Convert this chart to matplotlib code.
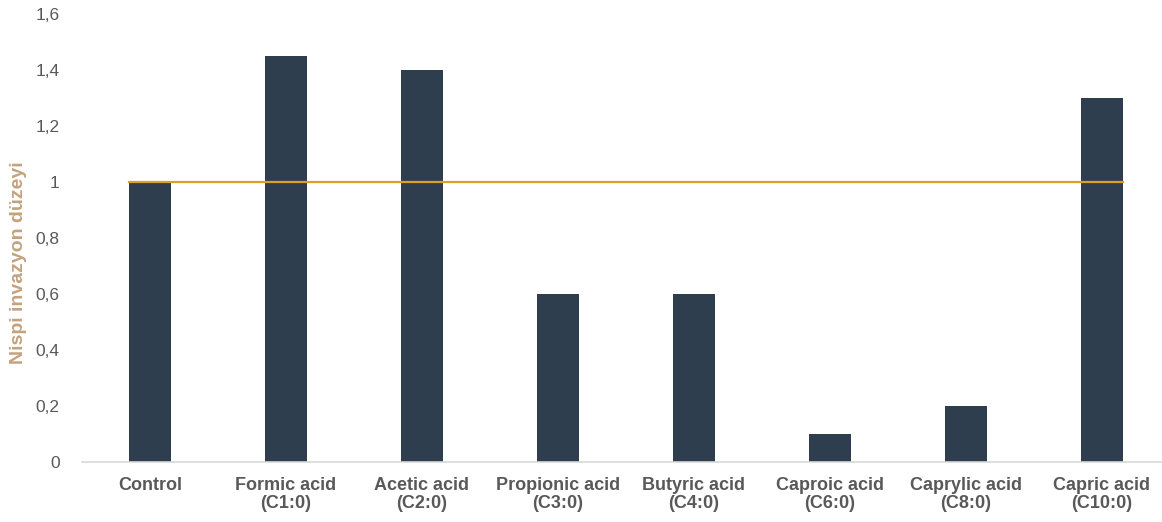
import matplotlib
matplotlib.use("Agg")
import matplotlib.pyplot as plt
from matplotlib.ticker import FuncFormatter

categories = ["Control", "Formic acid\n(C1:0)", "Acetic acid\n(C2:0)", "Propionic acid\n(C3:0)",
              "Butyric acid\n(C4:0)", "Caproic acid\n(C6:0)", "Caprylic acid\n(C8:0)", "Capric acid\n(C10:0)"]
values = [1.0, 1.45, 1.40, 0.60, 0.60, 0.10, 0.20, 1.30]
reference_level = 1.0
yticks = [0, 0.2, 0.4, 0.6, 0.8, 1.0, 1.2, 1.4, 1.6]
ylabel = "Nispi invazyon düzeyi"

plt.rcParams['font.family'] = ['Liberation Sans', 'DejaVu Sans']

fig = plt.figure(figsize=(11.62, 5.22), dpi=100)
ax = fig.add_axes([82 / 1162, 0.115, 1088 / 1162, 0.858])

x = list(range(len(categories)))
bw = 0.31
ax.bar(x, values, width=bw, color="#2E3E4E", zorder=2)
ax.plot([x[0] - bw / 2, x[-1] + bw / 2], [reference_level, reference_level],
        color="#D9A21F", linewidth=1.6, zorder=3)

ax.set_xlim(-0.5, len(categories) - 0.5)
ax.set_ylim(0, 1.6)
ax.set_yticks(yticks)
ax.yaxis.set_major_formatter(FuncFormatter(lambda v, p: ("%g" % round(v, 1)).replace(".", ",")))
ax.set_xticks(x)
ax.set_xticklabels(categories, fontweight="bold", color="#595959", fontsize=13, linespacing=1.05)
ax.tick_params(axis="y", length=0, labelsize=12.5, labelcolor="#595959", pad=16)
ax.tick_params(axis="x", length=0, pad=11)

for s in ["top", "right", "left"]:
    ax.spines[s].set_visible(False)
ax.spines["bottom"].set_color("#D9D9D9")
ax.spines["bottom"].set_linewidth(1.2)

ax.set_ylabel(ylabel, color="#C4A27E", fontsize=14, fontweight="bold")
ax.yaxis.set_label_coords(-0.0506, 0.446)

fig.savefig("out.png", dpi=100)
